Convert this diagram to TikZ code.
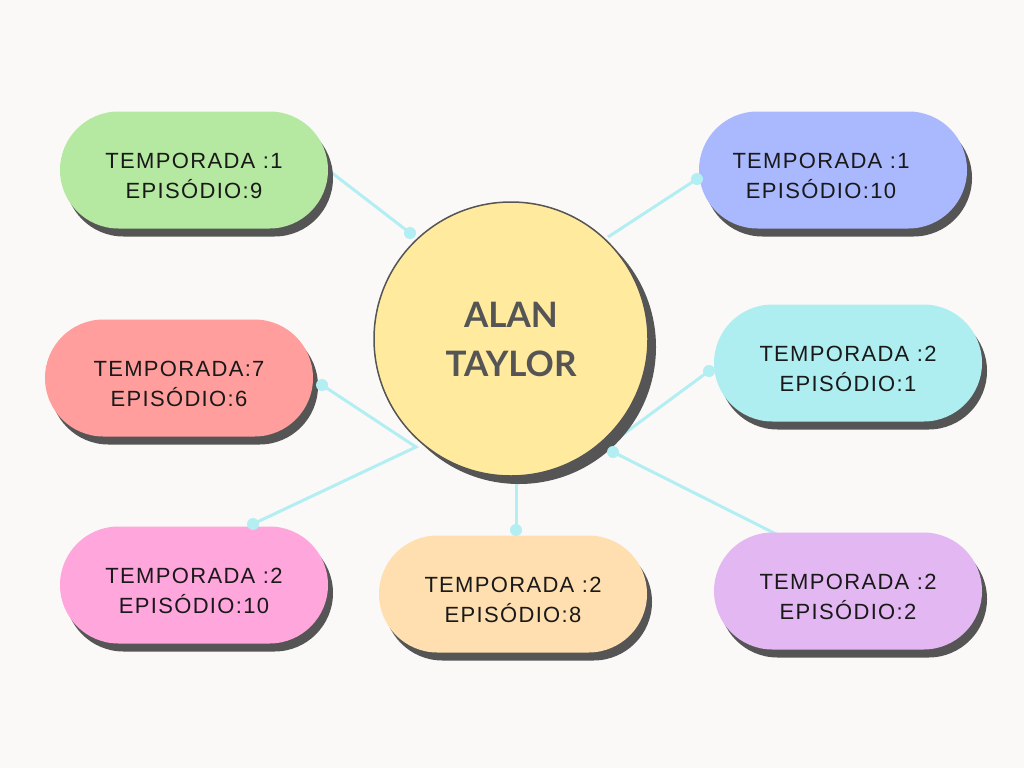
\documentclass[tikz,border=0pt]{standalone}
\usepackage{fontspec}
\setmainfont{Liberation Sans}
\newfontfamily\pillfont{Liberation Sans}[LetterSpace=6]
\newfontfamily\namefont{Lato}
\usetikzlibrary{shapes.misc, shadows}

\definecolor{paper}{HTML}{FAF9F7}
\definecolor{shade}{HTML}{555555}
\definecolor{wire}{HTML}{B2EEF2}
\definecolor{sun}{HTML}{FFEA9E}
\definecolor{mint}{HTML}{B5E8A0}
\definecolor{lilac}{HTML}{AAB8FE}
\definecolor{coral}{HTML}{FF9E9C}
\definecolor{aqua}{HTML}{AFEEF0}
\definecolor{rose}{HTML}{FFA6DD}
\definecolor{peach}{HTML}{FFDFAF}
\definecolor{mauve}{HTML}{E3B7F2}

\pgfdeclarelayer{links}
\pgfsetlayers{links,main}

\begin{document}
\begin{tikzpicture}[
  x=1pt, y=-1pt,
  pill/.style={rounded rectangle, minimum width=268pt, minimum height=117pt, inner sep=0pt, align=center,
    font=\pillfont\fontsize{22}{30}\selectfont, text=black!90, text height=56pt, text depth=0pt,
    drop shadow={shadow xshift=5pt, shadow yshift=-8pt, fill=shade, opacity=1}},
  hub/.style={circle, draw=shade, line width=1.5pt, fill=sun, minimum size=274pt, inner sep=0pt, align=center,
    font=\namefont\bfseries\fontsize{35}{49}\selectfont, text=shade,
    drop shadow={shadow xshift=8pt, shadow yshift=-8pt, fill=shade, opacity=1}},
  link/.style={line width=3pt, draw=wire},
  dot/.style={circle, fill=wire, minimum size=12pt, inner sep=0pt}
]

\begin{pgfonlayer}{links}
\fill[paper] (0,0) rectangle (1024,768);
\end{pgfonlayer}
\useasboundingbox (0,0) rectangle (1024,768);

% Centre
\node[hub] (hub) at (511, 339) {ALAN\\TAYLOR};

% === Episodes ===
\node[pill, fill=mint]  (ep1) at (194, 170) {TEMPORADA :1\\EPISÓDIO:9};
\node[pill, fill=lilac] (ep2) at (833, 170) {TEMPORADA :1\hspace*{24pt}\\EPISÓDIO:10\hspace*{24pt}};
\node[pill, fill=coral] (ep3) at (179, 378) {TEMPORADA:7\\EPISÓDIO:6};
\node[pill, fill=aqua]  (ep4) at (848, 363) {TEMPORADA :2\\EPISÓDIO:1};
\node[pill, fill=rose]  (ep5) at (194, 585) {TEMPORADA :2\\EPISÓDIO:10};
\node[pill, fill=peach] (ep6) at (513, 594) {TEMPORADA :2\\EPISÓDIO:8};
\node[pill, fill=mauve] (ep7) at (848, 591) {TEMPORADA :2\\EPISÓDIO:2};

% dots
\node[dot] (p1) at (410, 233) {};
\node[dot] (p2) at (697, 179) {};
\node[dot] (p3) at (322, 385) {};
\node[dot] (p4) at (709, 371) {};
\node[dot] (p5) at (253, 524) {};
\node[dot] (p6) at (516, 530) {};
\node[dot] (p7) at (613, 452) {};

\coordinate (c2) at (608, 237);
\coordinate (c4) at (610, 444);
\coordinate (c6) at (516, 476);
\coordinate (c7) at (782, 537);
\coordinate (j35) at (416, 447);

% Connectors
\begin{pgfonlayer}{links}
\draw[link] (ep1.east) -- (p1.center);
\draw[link] (c2) -- (p2.center);
\draw[link] (p3.center) -- (j35) -- (p5.center);
\draw[link] (c4) -- (p4.center);
\draw[link] (c6) -- (p6.center);
\draw[link] (p7.center) -- (c7);
\end{pgfonlayer}

\end{tikzpicture}
\end{document}
